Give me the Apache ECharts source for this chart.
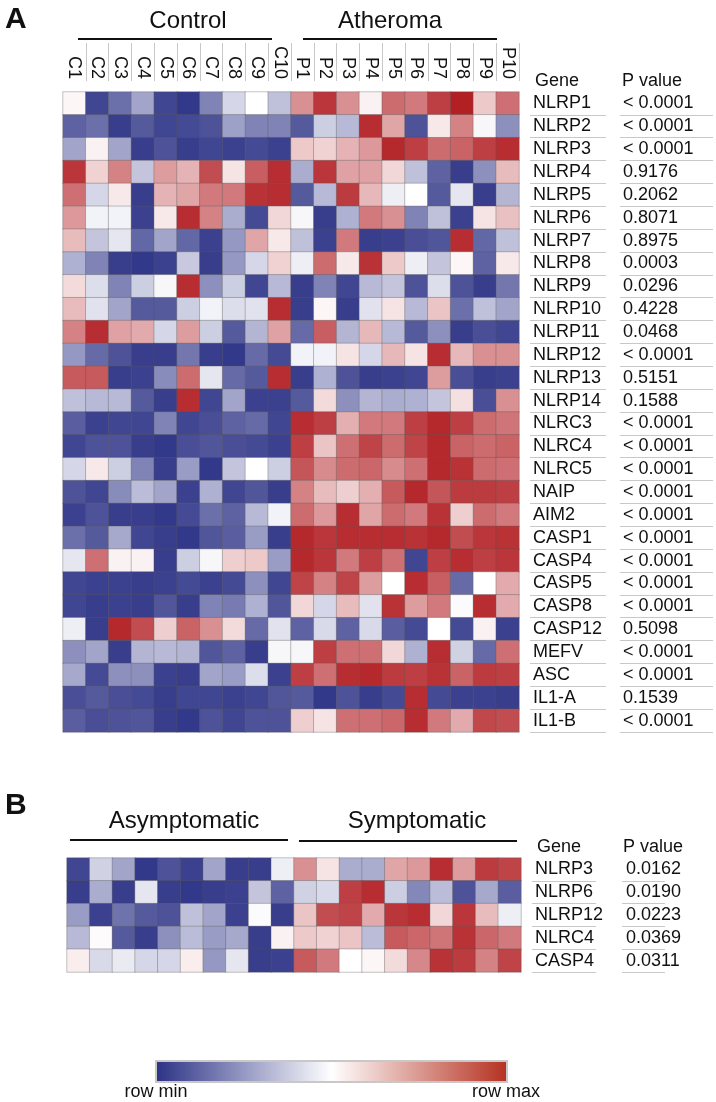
<!DOCTYPE html>
<html>
<head>
<meta charset="utf-8">
<script src="https://cdn.jsdelivr.net/npm/echarts@6/dist/echarts.min.js"></script>
<style>
  html, body { margin: 0; padding: 0; background: #fff; }
  #chart { width: 716px; height: 1102px; }
</style>
</head>
<body>
<div id="chart"></div>
<script>
// ---- data (row-normalised expression, 0 = row min, 1 = row max) ----
const colsA = ["C1","C2","C3","C4","C5","C6","C7","C8","C9","C10",
               "P1","P2","P3","P4","P5","P6","P7","P8","P9","P10"];
const genesA = ["NLRP1","NLRP2","NLRP3","NLRP4","NLRP5","NLRP6","NLRP7","NLRP8","NLRP9","NLRP10",
                "NLRP11","NLRP12","NLRP13","NLRP14","NLRC3","NLRC4","NLRC5","NAIP","AIM2","CASP1",
                "CASP4","CASP5","CASP8","CASP12","MEFV","ASC","IL1-A","IL1-B"];
const pvalsA = ["< 0.0001","< 0.0001","< 0.0001","0.9176","0.2062","0.8071","0.8975","0.0003","0.0296","0.4228",
                "0.0468","< 0.0001","0.5151","0.1588","< 0.0001","< 0.0001","< 0.0001","< 0.0001","< 0.0001","< 0.0001",
                "< 0.0001","< 0.0001","< 0.0001","0.5098","< 0.0001","< 0.0001","0.1539","< 0.0001"];
const valuesA = [
  [0.52,0.05,0.15,0.28,0.05,0.02,0.20,0.40,0.50,0.35, 0.75,0.95,0.75,0.53,0.83,0.80,0.93,1.00,0.62,0.82],
  [0.12,0.15,0.03,0.10,0.05,0.06,0.08,0.27,0.20,0.20, 0.10,0.38,0.33,0.97,0.70,0.08,0.55,0.78,0.48,0.23],
  [0.28,0.53,0.28,0.03,0.08,0.03,0.05,0.04,0.06,0.04, 0.62,0.60,0.67,0.73,0.98,0.93,0.83,0.85,0.93,0.97],
  [0.95,0.60,0.78,0.36,0.72,0.67,0.90,0.56,0.86,0.97, 0.30,0.95,0.71,0.71,0.59,0.35,0.12,0.03,0.23,0.65],
  [0.82,0.40,0.55,0.03,0.67,0.70,0.80,0.80,0.96,0.97, 0.10,0.33,0.94,0.66,0.46,0.50,0.10,0.44,0.03,0.32],
  [0.73,0.47,0.47,0.04,0.55,0.97,0.78,0.30,0.06,0.59, 0.48,0.03,0.31,0.80,0.75,0.20,0.35,0.04,0.56,0.64],
  [0.65,0.36,0.44,0.13,0.28,0.13,0.04,0.25,0.70,0.55, 0.35,0.04,0.80,0.03,0.04,0.07,0.09,0.97,0.13,0.35],
  [0.31,0.20,0.03,0.02,0.04,0.37,0.03,0.25,0.40,0.60, 0.46,0.83,0.55,0.96,0.62,0.46,0.36,0.52,0.12,0.55],
  [0.58,0.42,0.20,0.38,0.48,0.97,0.23,0.38,0.05,0.33, 0.03,0.20,0.05,0.33,0.36,0.08,0.42,0.08,0.03,0.17],
  [0.65,0.43,0.28,0.10,0.10,0.38,0.47,0.42,0.43,0.97, 0.03,0.52,0.03,0.43,0.56,0.33,0.63,0.15,0.35,0.28],
  [0.78,0.97,0.71,0.69,0.40,0.72,0.38,0.10,0.32,0.71, 0.14,0.86,0.32,0.66,0.33,0.10,0.23,0.03,0.07,0.05],
  [0.25,0.14,0.08,0.03,0.03,0.17,0.03,0.02,0.14,0.06, 0.47,0.47,0.56,0.40,0.66,0.56,0.97,0.66,0.75,0.75],
  [0.87,0.87,0.03,0.04,0.22,0.83,0.44,0.14,0.10,0.97, 0.03,0.31,0.08,0.03,0.04,0.05,0.72,0.07,0.03,0.04],
  [0.35,0.33,0.33,0.10,0.03,0.97,0.05,0.28,0.04,0.04, 0.10,0.58,0.23,0.32,0.30,0.31,0.36,0.57,0.07,0.75],
  [0.11,0.04,0.05,0.05,0.20,0.05,0.07,0.12,0.14,0.05, 0.97,0.93,0.68,0.80,0.80,0.93,0.98,0.93,0.83,0.81],
  [0.05,0.08,0.08,0.03,0.02,0.07,0.09,0.07,0.06,0.04, 0.93,0.63,0.82,0.92,0.83,0.92,0.98,0.85,0.83,0.85],
  [0.40,0.55,0.38,0.20,0.03,0.26,0.02,0.36,0.50,0.38, 0.88,0.76,0.83,0.84,0.76,0.82,0.98,0.96,0.83,0.82],
  [0.08,0.05,0.22,0.34,0.28,0.04,0.31,0.05,0.09,0.03, 0.78,0.65,0.61,0.68,0.87,0.98,0.88,0.94,0.94,0.93],
  [0.04,0.08,0.03,0.03,0.02,0.06,0.15,0.12,0.33,0.47, 0.83,0.73,0.97,0.70,0.83,0.80,0.96,0.61,0.83,0.80],
  [0.15,0.10,0.29,0.05,0.03,0.02,0.09,0.11,0.26,0.03, 0.98,0.95,0.97,0.97,0.97,0.96,0.98,0.90,0.95,0.96],
  [0.44,0.82,0.53,0.53,0.03,0.38,0.48,0.61,0.62,0.26, 0.98,0.95,0.80,0.93,0.82,0.05,0.93,0.97,0.93,0.95],
  [0.05,0.04,0.04,0.03,0.04,0.06,0.04,0.06,0.23,0.05, 0.92,0.78,0.92,0.72,0.50,0.97,0.86,0.14,0.50,0.69],
  [0.05,0.03,0.04,0.03,0.09,0.03,0.20,0.18,0.31,0.09, 0.59,0.40,0.65,0.43,0.96,0.72,0.80,0.49,0.97,0.69],
  [0.46,0.03,0.98,0.90,0.61,0.85,0.75,0.58,0.14,0.43, 0.12,0.41,0.12,0.41,0.11,0.06,0.50,0.06,0.53,0.04],
  [0.23,0.28,0.03,0.32,0.33,0.32,0.09,0.12,0.03,0.48, 0.48,0.93,0.82,0.82,0.59,0.31,0.97,0.39,0.14,0.82],
  [0.29,0.06,0.23,0.23,0.04,0.03,0.28,0.26,0.42,0.04, 0.93,0.82,0.97,0.98,0.94,0.93,0.96,0.85,0.94,0.93],
  [0.07,0.10,0.07,0.06,0.03,0.05,0.05,0.04,0.05,0.09, 0.10,0.02,0.08,0.03,0.06,0.97,0.06,0.04,0.04,0.03],
  [0.11,0.07,0.08,0.09,0.03,0.02,0.08,0.05,0.08,0.08, 0.61,0.56,0.82,0.82,0.84,0.97,0.80,0.69,0.91,0.90]
];

const colsB = ["A1","A2","A3","A4","A5","A6","A7","A8","A9","A10",
               "S1","S2","S3","S4","S5","S6","S7","S8","S9","S10"];
const genesB = ["NLRP3","NLRP6","NLRP12","NLRC4","CASP4"];
const pvalsB = ["0.0162","0.0190","0.0223","0.0369","0.0311"];
const valuesB = [
  [0.05,0.39,0.28,0.02,0.08,0.04,0.28,0.03,0.03,0.46, 0.75,0.56,0.30,0.30,0.70,0.73,0.97,0.72,0.94,0.92],
  [0.03,0.30,0.03,0.44,0.03,0.02,0.03,0.04,0.36,0.12, 0.39,0.41,0.93,0.97,0.38,0.21,0.34,0.08,0.29,0.11],
  [0.26,0.04,0.16,0.10,0.08,0.35,0.28,0.04,0.49,0.03, 0.63,0.90,0.92,0.69,0.95,0.97,0.59,0.95,0.65,0.46],
  [0.33,0.51,0.10,0.03,0.23,0.34,0.26,0.29,0.03,0.53, 0.62,0.60,0.63,0.34,0.87,0.84,0.81,0.96,0.84,0.80],
  [0.54,0.41,0.45,0.40,0.40,0.54,0.25,0.44,0.03,0.04, 0.87,0.80,0.50,0.52,0.58,0.77,0.96,0.94,0.78,0.92]
];

// ---- styling ----
const FONT = '"Liberation Sans", Arial, Helvetica, sans-serif';
const BLUE = "#2b3185", WHITE = "#ffffff", RED = "#b22024";
const LINE_GREY = "#c8c8c8";

function toCells(values) {
  const out = [];
  values.forEach((row, r) => row.forEach((v, c) => out.push([c, r, v])));
  return out;
}

function geneAxis(grid, genes, offset, tickLen, margin, formatter) {
  return {
    gridIndex: grid,
    type: "category",
    data: genes,
    inverse: true,
    position: "right",
    offset: offset,
    axisLine: { show: false },
    axisTick: {
      show: true,
      interval: (i) => i > 0,
      length: tickLen,
      lineStyle: { color: LINE_GREY, width: 1 },
    },
    axisLabel: {
      interval: 0,
      margin: margin,
      fontSize: 18,
      fontFamily: FONT,
      color: "#111",
      formatter: formatter,
    },
    splitLine: { show: false },
  };
}

function txt(text, x, y, size, align, bold) {
  return {
    type: "text",
    x: x,
    y: y,
    style: {
      text: text,
      font: (bold ? "bold " : "") + size + "px " + FONT,
      fill: "#111",
      align: align || "center",
      verticalAlign: "middle",
    },
  };
}

function hline(x1, x2, y) {
  return {
    type: "line",
    shape: { x1: x1, y1: y, x2: x2, y2: y },
    style: { stroke: "#111", lineWidth: 2 },
  };
}

const chart = echarts.init(document.getElementById("chart"));

chart.setOption({
  animation: false,
  backgroundColor: "#fff",
  grid: [
    { left: 63, top: 92, width: 456, height: 640, outerBoundsMode: "none" },
    { left: 67, top: 858, width: 454, height: 114, outerBoundsMode: "none" },
  ],
  xAxis: [
    {
      gridIndex: 0,
      type: "category",
      data: colsA,
      position: "top",
      offset: 11,
      axisLine: { show: false },
      axisTick: {
        show: true,
        interval: (i) => i > 0,
        length: 38,
        lineStyle: { color: LINE_GREY, width: 1 },
      },
      axisLabel: {
        interval: 0,
        rotate: 90,
        margin: 2,
        fontSize: 18,
        fontFamily: FONT,
        color: "#111",
      },
      splitLine: { show: false },
    },
    { gridIndex: 1, type: "category", data: colsB, show: false },
  ],
  yAxis: [
    geneAxis(0, genesA, 11, 76, 3),
    geneAxis(0, genesA, 101, 93, 3, (v, i) => pvalsA[i]),
    geneAxis(1, genesB, 11, 64, 3),
    geneAxis(1, genesB, 101, 43, 4, (v, i) => pvalsB[i]),
  ],
  visualMap: {
    type: "continuous",
    min: 0,
    max: 1,
    show: false,
    seriesIndex: [0, 1],
    inRange: { color: [BLUE, WHITE, RED] },
  },
  series: [
    {
      type: "heatmap",
      xAxisIndex: 0,
      yAxisIndex: 0,
      data: toCells(valuesA),
      silent: true,
      itemStyle: { borderColor: "rgba(90,90,90,0.35)", borderWidth: 1 },
    },
    {
      type: "heatmap",
      xAxisIndex: 1,
      yAxisIndex: 2,
      data: toCells(valuesB),
      silent: true,
      itemStyle: { borderColor: "rgba(90,90,90,0.35)", borderWidth: 1 },
    },
  ],
  graphic: {
    elements: [
      // panel A
      txt("A", 5, 20, 30, "left", true),
      txt("Control", 188, 21, 24),
      txt("Atheroma", 390, 21, 24),
      hline(78, 272, 39),
      hline(303, 497, 39),
      txt("Gene", 535, 81, 18, "left"),
      txt("P value", 622, 81, 18, "left"),
      // panel B
      txt("B", 5, 806, 30, "left", true),
      txt("Asymptomatic", 184, 821, 24),
      txt("Symptomatic", 417, 821, 24),
      hline(70, 288, 840),
      hline(299, 517, 841),
      txt("Gene", 537, 847, 18, "left"),
      txt("P value", 623, 847, 18, "left"),
      // colour key
      {
        type: "rect",
        shape: { x: 156, y: 1061, width: 351, height: 21 },
        style: {
          fill: {
            type: "linear",
            x: 0, y: 0, x2: 1, y2: 0,
            colorStops: [
              { offset: 0, color: BLUE },
              { offset: 0.5, color: WHITE },
              { offset: 1, color: "#b5301f" },
            ],
          },
          stroke: LINE_GREY,
          lineWidth: 2,
        },
      },
      txt("row min", 156, 1092, 18),
      txt("row max", 506, 1092, 18),
    ],
  },
});
</script>
</body>
</html>
